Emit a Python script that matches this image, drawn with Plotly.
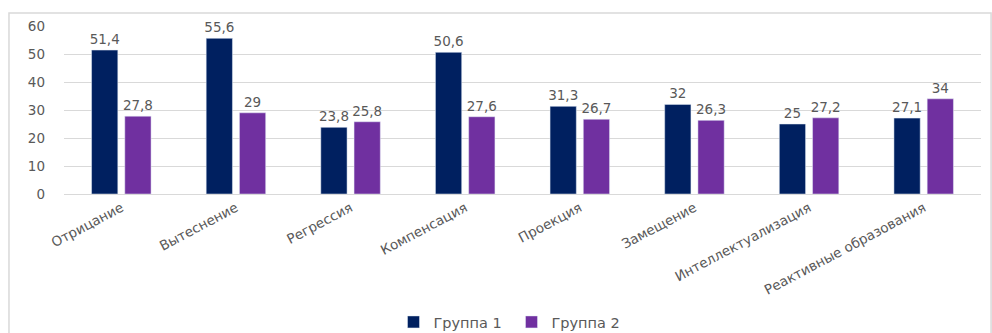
import plotly.graph_objects as go

categories = ["Отрицание", "Вытеснение", "Регрессия", "Компенсация", "Проекция",
              "Замещение", "Интеллектуализация", "Реактивные образования"]
group1 = [51.4, 55.6, 23.8, 50.6, 31.3, 32, 25, 27.1]
group2 = [27.8, 29, 25.8, 27.6, 26.7, 26.3, 27.2, 34]
y_ticks = [0, 10, 20, 30, 40, 50, 60]

def fmt(v):
    return (f"{v:g}").replace(".", ",")

FONT = "DejaVu Sans"
GRAY = "#595959"

fig = go.Figure()
fig.add_trace(go.Bar(name="Группа 1", x=categories, y=group1,
                     marker=dict(color="#002060"),
                     text=[fmt(v) for v in group1], textposition="outside",
                     constraintext="none",
                     textfont=dict(family=FONT, size=13.5, color=GRAY), cliponaxis=False))
fig.add_trace(go.Bar(name="Группа 2", x=categories, y=group2,
                     marker=dict(color="#7030A0"),
                     text=[fmt(v) for v in group2], textposition="outside",
                     constraintext="none",
                     textfont=dict(family=FONT, size=13.5, color=GRAY), cliponaxis=False))

fig.update_layout(
    width=992, height=333,
    margin=dict(l=64, r=11, t=26, b=139, autoexpand=False),
    paper_bgcolor="white", plot_bgcolor="white",
    barmode="group", bargap=0.42, bargroupgap=0.21,
    font=dict(family=FONT, size=13, color=GRAY),
    showlegend=True,
    legend=dict(orientation="h", x=0.488, xanchor="center", yref="container", y=0.033,
                yanchor="middle", entrywidth=73, itemwidth=30,
                font=dict(family=FONT, size=14.5, color=GRAY), traceorder="normal"),
    xaxis=dict(tickangle=-28, showgrid=False, showline=True, linecolor="#d9d9d9",
               automargin=False,
               tickfont=dict(family=FONT, size=13.5, color=GRAY)),
    yaxis=dict(range=[0, 60], tickvals=y_ticks, showgrid=True, gridcolor="#d9d9d9",
               zeroline=False, showline=False, ticklabelstandoff=18, automargin=False,
               tickfont=dict(family=FONT, size=13.5, color=GRAY)),
    shapes=[dict(type="rect", xref="paper", yref="paper", x0=-0.06, x1=1.011,
                 y0=-0.9, y1=1.077, line=dict(color="#d9d9d9", width=1.5),
                 fillcolor="rgba(0,0,0,0)", layer="below")],
)
fig.write_html("out.html")
